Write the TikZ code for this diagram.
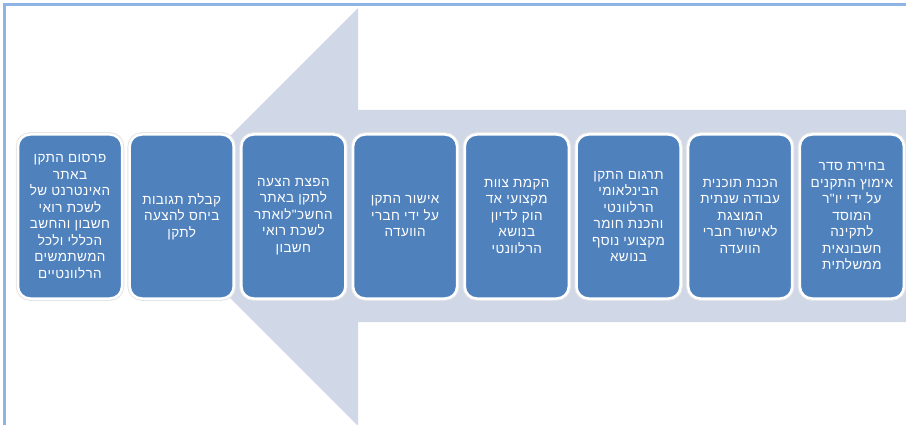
\documentclass[tikz,border=0pt]{standalone}
\usepackage{fontspec}
\newfontfamily\hebfont[Script=Hebrew,LetterSpace=3]{Liberation Sans}
\TeXXeTstate=1
\definecolor{stageblue}{HTML}{4F81BD}
\definecolor{arrowgray}{HTML}{D0D8E8}
\definecolor{frameblue}{HTML}{8EB4E3}
\newcommand{\heb}[1]{\beginR#1\endR}
\tikzset{
  stage/.style={rectangle, rounded corners=12pt, fill=stageblue, draw=white, line width=2.5pt,
    minimum width=104pt, minimum height=164pt, inner sep=2pt, align=center, text=white,
    font=\hebfont\fontsize{13.5}{16.5}\selectfont,
    preaction={draw=black!10, line width=4.5pt}},
}
\begin{document}
\begin{tikzpicture}[x=1pt,y=-1pt]
      \fill[white] (0,0) rectangle (906,425); % page
      \useasboundingbox (0,0) rectangle (906,425);
      \draw[frameblue, line width=3pt] (4.5,425) -- (4.5,4.5) -- (906,4.5); % frame
      \fill[arrowgray] (906,110) -- (358,110) -- (358,8) -- (149,217) -- (358,426) -- (358,322) -- (906,322) -- cycle; % big arrow
      \node[stage] (s8) at (851.9,216.5) {\heb{בחירת סדר}\\\heb{אימוץ התקנים}\\\heb{על ידי יו"ר}\\\heb{המוסד}\\\heb{לתקינה}\\\heb{חשבונאית}\\\heb{ממשלתית}};
      \node[stage] (s7) at (740.2,216.5) {\heb{הכנת תוכנית}\\\heb{עבודה שנתית}\\\heb{המוצגת}\\\heb{לאישור חברי}\\\heb{הוועדה}};
      \node[stage] (s6) at (628.5,216.5) {\heb{תרגום התקן}\\\heb{הבינלאומי}\\\heb{הרלוונטי}\\\heb{והכנת חומר}\\\heb{מקצועי נוסף}\\\heb{בנושא}};
      \node[stage] (s5) at (516.8,216.5) {\heb{הקמת צוות}\\\heb{מקצועי אד}\\\heb{הוק לדיון}\\\heb{בנושא}\\\heb{הרלוונטי}};
      \node[stage] (s4) at (405.1,216.5) {\heb{אישור התקן}\\\heb{על ידי חברי}\\\heb{הוועדה}};
      \node[stage] (s3) at (293.4,216.5) {\heb{הפצת הצעה}\\\heb{לתקן באתר}\\\heb{החשכ"לואתר}\\\heb{לשכת רואי}\\\heb{חשבון}};
      \node[stage] (s2) at (181.7,216.5) {\heb{קבלת תגובות}\\\heb{ביחס להצעה}\\\heb{לתקן}};
      \node[stage] (s1) at (70,216.5) {\heb{פרסום התקן}\\\heb{באתר}\\\heb{האינטרנט של}\\\heb{לשכת רואי}\\\heb{חשבון והחשב}\\\heb{הכללי ולכל}\\\heb{המשתמשים}\\\heb{הרלוונטיים}};
\end{tikzpicture}
\end{document}
